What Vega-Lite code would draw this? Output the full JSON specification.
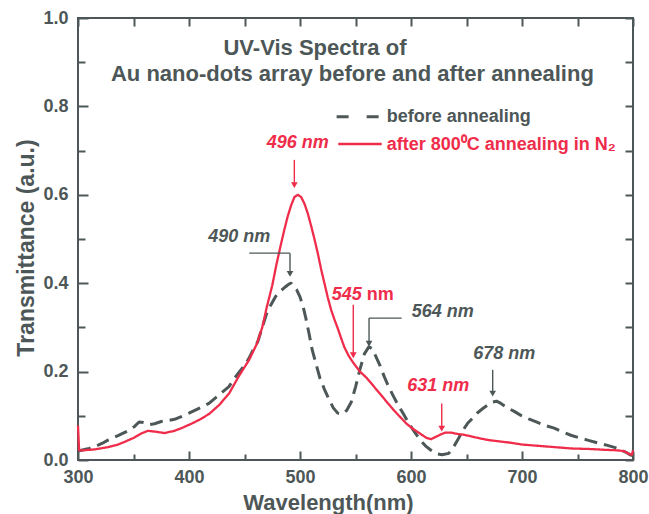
{
  "$schema": "https://vega.github.io/schema/vega-lite/v6.json",
  "width": 555,
  "height": 442,
  "autosize": {"type": "none"},
  "padding": {"left": 78, "top": 18, "right": 16, "bottom": 54},
  "background": "white",
  "config": {
    "view": {"stroke": "#4d5757", "strokeWidth": 2},
    "axis": {
      "grid": false,
      "domain": false,
      "labelFlush": false,
      "labelOverlap": false,
      "labelFont": "Liberation Sans",
      "labelFontWeight": "bold",
      "labelFontSize": 18,
      "labelColor": "#4d5757",
      "tickColor": "#4d5757",
      "tickWidth": 2,
      "titleFont": "Liberation Sans",
      "titleFontWeight": "bold",
      "titleColor": "#4d5757"
    }
  },
  "datasets": {
    "spectra": [
      {"s":"before","wl":300,"t":0.020},{"s":"before","wl":303,"t":0.022},{"s":"before","wl":310,"t":0.026},{"s":"before","wl":315,"t":0.030},{"s":"before","wl":322,"t":0.038},{"s":"before","wl":327,"t":0.045},{"s":"before","wl":336,"t":0.055},{"s":"before","wl":345,"t":0.066},{"s":"before","wl":351,"t":0.076},{"s":"before","wl":355,"t":0.086},{"s":"before","wl":359,"t":0.085},{"s":"before","wl":364,"t":0.080},{"s":"before","wl":369,"t":0.082},{"s":"before","wl":375,"t":0.087},{"s":"before","wl":381,"t":0.089},{"s":"before","wl":387,"t":0.092},{"s":"before","wl":393,"t":0.098},{"s":"before","wl":400,"t":0.106},{"s":"before","wl":409,"t":0.117},{"s":"before","wl":418,"t":0.128},{"s":"before","wl":427,"t":0.147},{"s":"before","wl":436,"t":0.166},{"s":"before","wl":441,"t":0.185},{"s":"before","wl":445,"t":0.198},{"s":"before","wl":450,"t":0.214},{"s":"before","wl":454,"t":0.230},{"s":"before","wl":458,"t":0.250},{"s":"before","wl":462,"t":0.268},{"s":"before","wl":466,"t":0.300},{"s":"before","wl":470,"t":0.332},{"s":"before","wl":474,"t":0.352},{"s":"before","wl":478,"t":0.370},{"s":"before","wl":482,"t":0.381},{"s":"before","wl":487,"t":0.392},{"s":"before","wl":490,"t":0.398},{"s":"before","wl":492,"t":0.400},{"s":"before","wl":494,"t":0.393},{"s":"before","wl":497,"t":0.385},{"s":"before","wl":500,"t":0.369},{"s":"before","wl":503,"t":0.345},{"s":"before","wl":505,"t":0.324},{"s":"before","wl":508,"t":0.288},{"s":"before","wl":511,"t":0.249},{"s":"before","wl":515,"t":0.212},{"s":"before","wl":518,"t":0.185},{"s":"before","wl":522,"t":0.160},{"s":"before","wl":526,"t":0.138},{"s":"before","wl":530,"t":0.118},{"s":"before","wl":534,"t":0.106},{"s":"before","wl":538,"t":0.104},{"s":"before","wl":542,"t":0.112},{"s":"before","wl":546,"t":0.130},{"s":"before","wl":550,"t":0.165},{"s":"before","wl":554,"t":0.205},{"s":"before","wl":558,"t":0.240},{"s":"before","wl":562,"t":0.256},{"s":"before","wl":565,"t":0.252},{"s":"before","wl":568,"t":0.236},{"s":"before","wl":572,"t":0.214},{"s":"before","wl":576,"t":0.188},{"s":"before","wl":580,"t":0.165},{"s":"before","wl":584,"t":0.145},{"s":"before","wl":588,"t":0.126},{"s":"before","wl":593,"t":0.105},{"s":"before","wl":598,"t":0.083},{"s":"before","wl":603,"t":0.064},{"s":"before","wl":608,"t":0.046},{"s":"before","wl":613,"t":0.032},{"s":"before","wl":618,"t":0.022},{"s":"before","wl":623,"t":0.014},{"s":"before","wl":628,"t":0.012},{"s":"before","wl":634,"t":0.015},{"s":"before","wl":638,"t":0.028},{"s":"before","wl":642,"t":0.045},{"s":"before","wl":647,"t":0.068},{"s":"before","wl":651,"t":0.083},{"s":"before","wl":656,"t":0.096},{"s":"before","wl":660,"t":0.107},{"s":"before","wl":665,"t":0.117},{"s":"before","wl":669,"t":0.124},{"s":"before","wl":673,"t":0.131},{"s":"before","wl":677,"t":0.133},{"s":"before","wl":681,"t":0.128},{"s":"before","wl":687,"t":0.118},{"s":"before","wl":693,"t":0.110},{"s":"before","wl":699,"t":0.101},{"s":"before","wl":706,"t":0.093},{"s":"before","wl":714,"t":0.085},{"s":"before","wl":721,"t":0.078},{"s":"before","wl":729,"t":0.072},{"s":"before","wl":736,"t":0.064},{"s":"before","wl":744,"t":0.056},{"s":"before","wl":752,"t":0.050},{"s":"before","wl":759,"t":0.045},{"s":"before","wl":768,"t":0.039},{"s":"before","wl":777,"t":0.033},{"s":"before","wl":784,"t":0.028},{"s":"before","wl":789,"t":0.023},{"s":"before","wl":794,"t":0.017},{"s":"before","wl":798,"t":0.011},{"s":"before","wl":800,"t":0.010},
      {"s":"after","wl":300,"t":0.078},{"s":"after","wl":301,"t":0.022},{"s":"after","wl":305,"t":0.022},{"s":"after","wl":315,"t":0.024},{"s":"after","wl":327,"t":0.029},{"s":"after","wl":335,"t":0.034},{"s":"after","wl":342,"t":0.041},{"s":"after","wl":350,"t":0.050},{"s":"after","wl":357,"t":0.060},{"s":"after","wl":363,"t":0.066},{"s":"after","wl":370,"t":0.064},{"s":"after","wl":378,"t":0.061},{"s":"after","wl":387,"t":0.066},{"s":"after","wl":395,"t":0.074},{"s":"after","wl":403,"t":0.083},{"s":"after","wl":410,"t":0.092},{"s":"after","wl":418,"t":0.104},{"s":"after","wl":427,"t":0.124},{"s":"after","wl":436,"t":0.150},{"s":"after","wl":445,"t":0.190},{"s":"after","wl":454,"t":0.226},{"s":"after","wl":461,"t":0.262},{"s":"after","wl":466,"t":0.300},{"s":"after","wl":470,"t":0.345},{"s":"after","wl":475,"t":0.395},{"s":"after","wl":479,"t":0.445},{"s":"after","wl":483,"t":0.490},{"s":"after","wl":486,"t":0.522},{"s":"after","wl":489,"t":0.552},{"s":"after","wl":492,"t":0.576},{"s":"after","wl":495,"t":0.595},{"s":"after","wl":498,"t":0.600},{"s":"after","wl":501,"t":0.595},{"s":"after","wl":504,"t":0.580},{"s":"after","wl":507,"t":0.558},{"s":"after","wl":510,"t":0.530},{"s":"after","wl":513,"t":0.500},{"s":"after","wl":516,"t":0.468},{"s":"after","wl":519,"t":0.432},{"s":"after","wl":522,"t":0.400},{"s":"after","wl":525,"t":0.368},{"s":"after","wl":528,"t":0.340},{"s":"after","wl":531,"t":0.318},{"s":"after","wl":534,"t":0.298},{"s":"after","wl":537,"t":0.276},{"s":"after","wl":540,"t":0.255},{"s":"after","wl":544,"t":0.235},{"s":"after","wl":548,"t":0.220},{"s":"after","wl":554,"t":0.200},{"s":"after","wl":560,"t":0.186},{"s":"after","wl":566,"t":0.168},{"s":"after","wl":572,"t":0.150},{"s":"after","wl":578,"t":0.132},{"s":"after","wl":584,"t":0.114},{"s":"after","wl":590,"t":0.098},{"s":"after","wl":596,"t":0.082},{"s":"after","wl":602,"t":0.070},{"s":"after","wl":608,"t":0.060},{"s":"after","wl":614,"t":0.050},{"s":"after","wl":618,"t":0.047},{"s":"after","wl":622,"t":0.052},{"s":"after","wl":627,"t":0.058},{"s":"after","wl":631,"t":0.062},{"s":"after","wl":636,"t":0.062},{"s":"after","wl":642,"t":0.059},{"s":"after","wl":648,"t":0.057},{"s":"after","wl":655,"t":0.053},{"s":"after","wl":662,"t":0.049},{"s":"after","wl":670,"t":0.045},{"s":"after","wl":680,"t":0.042},{"s":"after","wl":690,"t":0.039},{"s":"after","wl":700,"t":0.035},{"s":"after","wl":715,"t":0.032},{"s":"after","wl":730,"t":0.029},{"s":"after","wl":745,"t":0.026},{"s":"after","wl":760,"t":0.025},{"s":"after","wl":775,"t":0.023},{"s":"after","wl":785,"t":0.022},{"s":"after","wl":792,"t":0.020},{"s":"after","wl":797,"t":0.013},{"s":"after","wl":799,"t":0.012},{"s":"after","wl":800,"t":0.022}
    ],
    "titles": [
      {"label":"UV-Vis Spectra of","wl":513.5,"t":0.9163},
      {"label":"Au nano-dots array before and after annealing","wl":547.2,"t":0.8575}
    ],
    "uprightText": [
      {"label":"before annealing","s":"before","wl":578.1,"t":0.7767},
      {"label":"after 800⁰C annealing in N₂","s":"after","wl":578.1,"t":0.7127},
      {"label":"nm","s":"after","wl":560.1,"t":0.3733}
    ],
    "italicText": [
      {"label":"496 nm","s":"after","wl":470.0,"t":0.7172},
      {"label":"490 nm","s":"before","wl":417.4,"t":0.5052},
      {"label":"545","s":"after","wl":528.6,"t":0.3733},
      {"label":"564 nm","s":"before","wl":600.6,"t":0.3355},
      {"label":"631 nm","s":"after","wl":596.7,"t":0.1674},
      {"label":"678 nm","s":"before","wl":656.1,"t":0.2398}
    ],
    "arrows": [
      {"s":"after","wl":494.9,"wl2":494.9,"t":0.679,"t2":0.624},
      {"s":"before","wl":454.3,"wl2":491.0,"t":0.468,"t2":0.468},
      {"s":"before","wl":491.0,"wl2":491.0,"t":0.468,"t2":0.423},
      {"s":"after","wl":548.0,"wl2":548.0,"t":0.351,"t2":0.239},
      {"s":"before","wl":591.6,"wl2":562.2,"t":0.321,"t2":0.321},
      {"s":"before","wl":562.2,"wl2":562.2,"t":0.321,"t2":0.265},
      {"s":"after","wl":627.7,"wl2":627.7,"t":0.128,"t2":0.073},
      {"s":"before","wl":673.6,"wl2":673.6,"t":0.204,"t2":0.152}
    ],
    "heads": [
      {"s":"after","wl":494.9,"t":0.622},
      {"s":"before","wl":491.0,"t":0.421},
      {"s":"after","wl":548.0,"t":0.237},
      {"s":"before","wl":562.2,"t":0.263},
      {"s":"after","wl":627.7,"t":0.071},
      {"s":"before","wl":673.6,"t":0.150}
    ],
    "legendLines": [
      {"s":"before","wl":533.0,"wl2":572.1,"t":0.7767},
      {"s":"after","wl":534.5,"wl2":573.6,"t":0.715}
    ]
  },
  "resolve": {"axis": {"x": "independent", "y": "independent"}},
  "layer": [
    {
      "data": {"name": "spectra"},
      "mark": {"type": "line", "strokeJoin": "round"},
      "encoding": {
        "x": {"field": "wl", "type": "quantitative", "scale": {"domain": [300, 800], "nice": false, "zero": false},
          "axis": {"orient": "bottom", "values": [300,400,500,600,700,800], "tickSize": 9, "offset": -9, "labelPadding": 8, "title": "Wavelength(nm)", "titleFontSize": 22, "titleX": 250, "titleY": 58, "titleBaseline": "alphabetic", "titleAlign": "center"}},
        "y": {"field": "t", "type": "quantitative", "scale": {"domain": [0, 1], "nice": false, "zero": false},
          "axis": {"orient": "left", "values": [0,0.2,0.4,0.6,0.8,1.0], "format": ".1f", "tickSize": 10, "offset": -10, "labelPadding": 10, "title": "Transmittance (a.u.)", "titleFontSize": 23, "titleAngle": -90, "titleX": -55, "titleY": 229.5, "titleBaseline": "alphabetic", "titleAlign": "center"}},
        "color": {"field": "s", "type": "nominal", "scale": {"domain": ["before","after"], "range": ["#4d5757","#ef2d4b"]}, "legend": null},
        "strokeDash": {"field": "s", "type": "nominal", "scale": {"domain": ["before","after"], "range": [[13,7],[1,0]]}, "legend": null},
        "strokeWidth": {"field": "s", "type": "nominal", "scale": {"domain": ["before","after"], "range": [3, 2.3]}, "legend": null}
      }
    },
    {
      "data": {"name": "titles"},
      "mark": {"type": "text", "font": "Liberation Sans", "fontWeight": "bold", "fontSize": 22, "align": "center", "baseline": "alphabetic", "color": "#4d5757"},
      "encoding": {
        "x": {"field": "wl", "type": "quantitative", "axis": {"orient": "top", "values": [300,350,400,450,500,550,600,650,700,750,800], "tickSize": 8, "offset": -8, "labels": false, "title": null}},
        "y": {"field": "t", "type": "quantitative", "axis": {"orient": "right", "values": [0,0.1,0.2,0.3,0.4,0.5,0.6,0.7,0.8,0.9,1.0], "tickSize": 8, "offset": -8, "labels": false, "title": null}},
        "text": {"field": "label"}
      }
    },
    {
      "data": {"name": "arrows"},
      "mark": {"type": "rule", "strokeWidth": 1.4},
      "encoding": {
        "x": {"field": "wl", "type": "quantitative", "axis": {"orient": "bottom", "values": [350,450,550,650,750], "tickSize": 6, "offset": -6, "labels": false, "title": null}},
        "x2": {"field": "wl2"},
        "y": {"field": "t", "type": "quantitative", "axis": {"orient": "left", "values": [0.1,0.3,0.5,0.7,0.9], "tickSize": 7, "offset": -7, "labels": false, "title": null}},
        "y2": {"field": "t2"},
        "color": {"field": "s", "type": "nominal", "legend": null}
      }
    },
    {
      "data": {"name": "heads"},
      "mark": {"type": "point", "shape": "triangle-down", "filled": true, "size": 45, "opacity": 1},
      "encoding": {
        "x": {"field": "wl", "type": "quantitative", "axis": null},
        "y": {"field": "t", "type": "quantitative", "axis": null},
        "color": {"field": "s", "type": "nominal", "legend": null}
      }
    },
    {
      "data": {"name": "legendLines"},
      "transform": [{"filter": "datum.s === 'before'"}],
      "mark": {"type": "rule", "strokeWidth": 3, "strokeDash": [12, 18], "color": "#4d5757"},
      "encoding": {
        "x": {"field": "wl", "type": "quantitative", "axis": null},
        "x2": {"field": "wl2"},
        "y": {"field": "t", "type": "quantitative", "axis": null}
      }
    },
    {
      "data": {"name": "legendLines"},
      "transform": [{"filter": "datum.s === 'after'"}],
      "mark": {"type": "rule", "strokeWidth": 2.5, "color": "#ef2d4b"},
      "encoding": {
        "x": {"field": "wl", "type": "quantitative", "axis": null},
        "x2": {"field": "wl2"},
        "y": {"field": "t", "type": "quantitative", "axis": null}
      }
    },
    {
      "data": {"name": "uprightText"},
      "mark": {"type": "text", "font": "Liberation Sans", "fontWeight": "bold", "fontSize": 18, "align": "left", "baseline": "middle"},
      "encoding": {
        "x": {"field": "wl", "type": "quantitative", "axis": null},
        "y": {"field": "t", "type": "quantitative", "axis": null},
        "text": {"field": "label"},
        "color": {"field": "s", "type": "nominal", "legend": null}
      }
    },
    {
      "data": {"name": "italicText"},
      "mark": {"type": "text", "font": "Liberation Sans", "fontWeight": "bold", "fontStyle": "italic", "fontSize": 18, "align": "left", "baseline": "middle"},
      "encoding": {
        "x": {"field": "wl", "type": "quantitative", "axis": null},
        "y": {"field": "t", "type": "quantitative", "axis": null},
        "text": {"field": "label"},
        "color": {"field": "s", "type": "nominal", "legend": null}
      }
    }
  ]
}
